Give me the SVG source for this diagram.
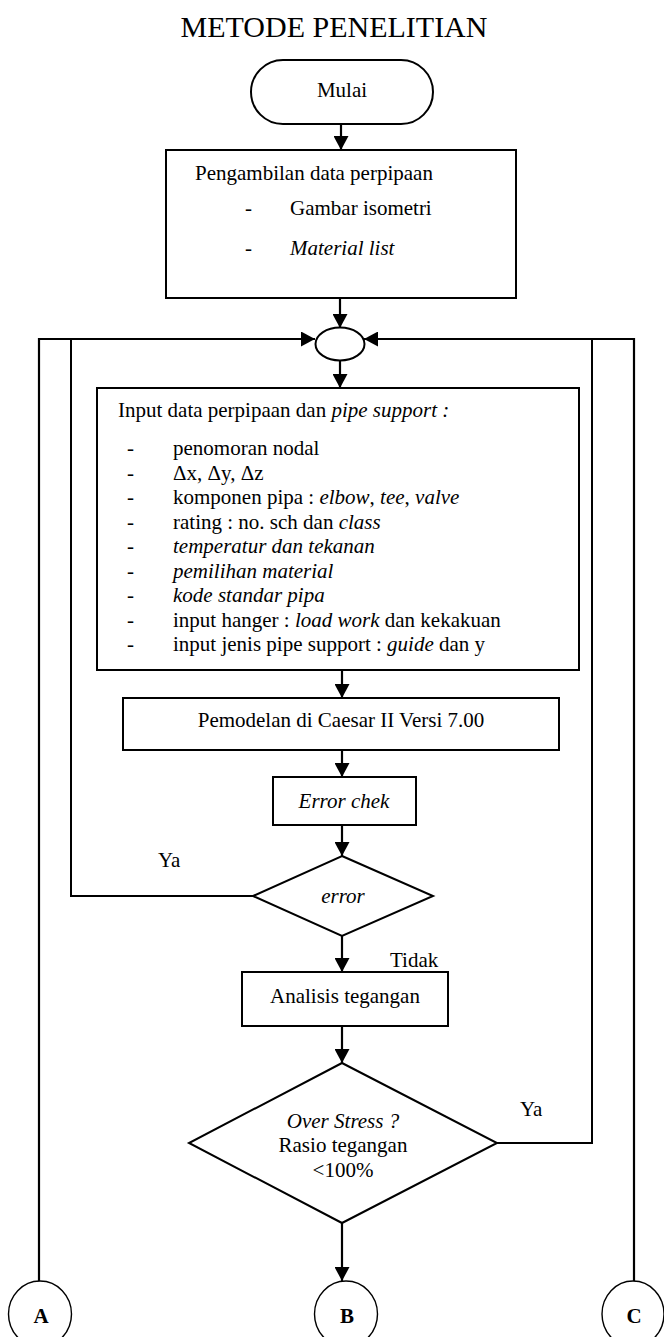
<svg xmlns="http://www.w3.org/2000/svg" width="664" height="1337" viewBox="0 0 664 1337">
<defs>
<style>
text{font-family:"Liberation Serif","Times New Roman",serif;font-size:21px;fill:#000}
.c{text-anchor:middle}
.i{font-style:italic}
.b{font-weight:bold}
.box{fill:#fff;stroke:#000;stroke-width:2}
.circ{fill:#fff;stroke:#000;stroke-width:1.4}
.ln{fill:none;stroke:#000;stroke-width:2}
.arr{fill:none;stroke:#000;stroke-width:2.2;marker-end:url(#ah)}
</style>
<marker id="ah" markerUnits="userSpaceOnUse" markerWidth="14" markerHeight="15" refX="14" refY="7.5" orient="auto">
<path d="M0,0 L14,7.5 L0,15 z" fill="#000"/>
</marker>
</defs>
<rect width="664" height="1337" fill="#fff"/>
<text x="334" y="37" class="c" style="font-size:30px">METODE PENELITIAN</text>

<g id="connectors">
<line class="arr" x1="341" y1="124" x2="341" y2="150"/>
<line class="arr" x1="340" y1="298" x2="340" y2="328"/>
<line class="arr" x1="340" y1="361" x2="340" y2="388"/>
<line class="arr" x1="342" y1="670" x2="342" y2="698"/>
<line class="arr" x1="342" y1="750" x2="342" y2="777"/>
<line class="arr" x1="342" y1="825" x2="342" y2="856"/>
<line class="arr" x1="342" y1="936" x2="342" y2="972"/>
<line class="arr" x1="342" y1="1026" x2="342" y2="1063"/>
<line class="arr" x1="342" y1="1223" x2="342" y2="1281"/>
<polyline class="ln" points="253,896 71,896 71,339"/>
<polyline class="ln" points="497,1143 592,1143 592,339"/>
<polyline class="arr" points="39,1281 39,339 315,339"/>
<polyline class="arr" points="634,1281 634,339 364,339"/>
<text x="158" y="867">Ya</text>
<text x="390" y="967">Tidak</text>
<text x="520" y="1116">Ya</text>
</g>

<g id="mulai">
<rect x="251" y="60" width="182" height="64" rx="32" class="box"/>
<text x="342" y="97" class="c">Mulai</text>
</g>

<g id="pengambilan">
<rect x="166" y="150" width="350" height="148" class="box"/>
<text x="195" y="180">Pengambilan data perpipaan</text>
<text x="245" y="215">-</text><text x="290" y="215">Gambar isometri</text>
<text x="245" y="255">-</text><text x="290" y="255" class="i">Material list</text>
</g>

<g id="junction">
<ellipse cx="340" cy="344" rx="24.5" ry="16.5" class="box"/>
</g>

<g id="input">
<rect x="97" y="388" width="482" height="282" class="box"/>
<text x="118" y="417">Input data perpipaan dan <tspan class="i">pipe support :</tspan></text>
<g>
<text x="127" y="455">-</text><text x="173" y="455">penomoran nodal</text>
<text x="127" y="479.5">-</text><text x="173" y="479.5">Δx, Δy, Δz</text>
<text x="127" y="504">-</text><text x="173" y="504">komponen pipa : <tspan class="i">elbow</tspan>, <tspan class="i">tee</tspan>, <tspan class="i">valve</tspan></text>
<text x="127" y="528.5">-</text><text x="173" y="528.5">rating : no. sch dan <tspan class="i">class</tspan></text>
<text x="127" y="553">-</text><text x="173" y="553" class="i">temperatur dan tekanan</text>
<text x="127" y="577.5">-</text><text x="173" y="577.5" class="i">pemilihan material</text>
<text x="127" y="602">-</text><text x="173" y="602" class="i">kode standar pipa</text>
<text x="127" y="626.5">-</text><text x="173" y="626.5">input hanger : <tspan class="i">load work</tspan> dan kekakuan</text>
<text x="127" y="651">-</text><text x="173" y="651">input jenis pipe support : <tspan class="i">guide</tspan> dan y</text>
</g>
</g>

<g id="pemodelan">
<rect x="123" y="698" width="436" height="52" class="box"/>
<text x="341" y="727" class="c">Pemodelan di Caesar II Versi 7.00</text>
</g>

<g id="errorchek">
<rect x="273" y="777" width="143" height="48" class="box"/>
<text x="344" y="808" class="c i">Error chek</text>
</g>

<g id="error">
<polygon points="342,856 433,896 342,936 253,896" class="box"/>
<text x="343" y="903" class="c i">error</text>
</g>

<g id="analisis">
<rect x="242" y="972" width="206" height="54" class="box"/>
<text x="345" y="1003" class="c">Analisis tegangan</text>
</g>

<g id="overstress">
<polygon points="342,1063 497,1143 342,1223 189,1143" class="box"/>
<text x="343" y="1128" class="c i">Over Stress ?</text>
<text x="343" y="1152" class="c">Rasio tegangan</text>
<text x="343" y="1177" class="c">&lt;100%</text>
</g>

<g id="A">
<ellipse cx="40" cy="1314" rx="31.5" ry="33" class="circ"/>
<text x="41" y="1323" class="c b">A</text>
</g>
<g id="B">
<ellipse cx="346" cy="1314" rx="31.5" ry="33" class="circ"/>
<text x="347" y="1323" class="c b">B</text>
</g>
<g id="C">
<ellipse cx="633" cy="1314" rx="31" ry="33" class="circ"/>
<text x="634" y="1323" class="c b">C</text>
</g>
</svg>
